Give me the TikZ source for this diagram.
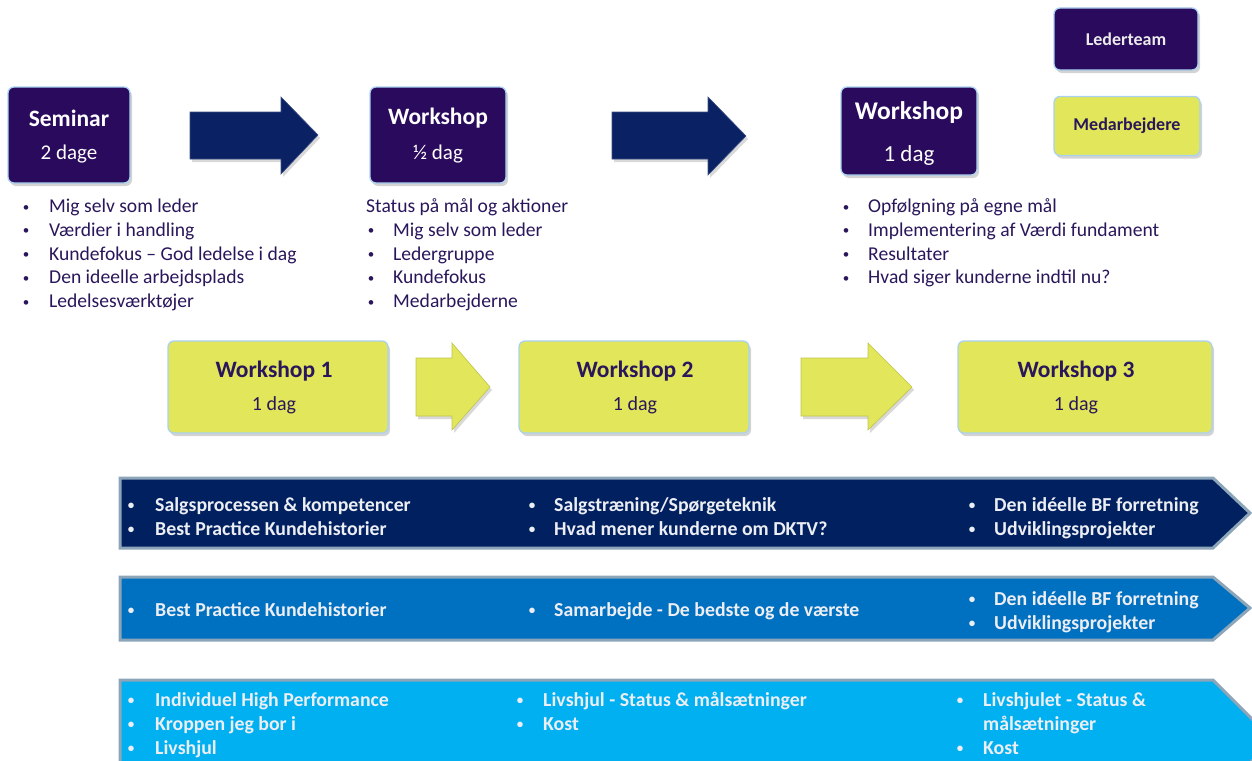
\documentclass[tikz,border=0pt]{standalone}
\usepackage{fontspec}
\setmainfont{Carlito}
\usetikzlibrary{shadows}
\definecolor{dpurple}{RGB}{42,10,92}
\definecolor{navyarrow}{RGB}{10,34,100}
\definecolor{edgeblue}{RGB}{170,210,240}
\definecolor{ybox}{RGB}{225,230,90}
\definecolor{band1}{RGB}{0,32,96}
\definecolor{band2}{RGB}{0,112,192}
\definecolor{band3}{RGB}{0,176,240}
\definecolor{bandedge}{RGB}{140,165,185}
\definecolor{listtxt}{RGB}{42,22,90}
\definecolor{bandtxt}{RGB}{236,238,244}
\newcommand{\mybul}{\raisebox{1.5pt}{\fontsize{13}{13}\selectfont •}}
\begin{document}
\begin{tikzpicture}[x=1pt,y=-1pt,
  boxbase/.style={rectangle, rounded corners=6pt, draw=edgeblue, line width=1.3pt,
     drop shadow={opacity=0.35, shadow xshift=2pt, shadow yshift=-3pt}},
  pbox/.style={boxbase, fill=dpurple},
  ybx/.style={boxbase, fill=ybox},
  ptitle/.style={text=white, font=\fontsize{23.5}{26}\selectfont\bfseries},
  psub/.style={text=white, font=\fontsize{21}{24}\selectfont},
  ytitle/.style={text=listtxt, font=\fontsize{23.5}{26}\selectfont\bfseries},
  ysub/.style={text=listtxt, font=\fontsize{20}{24}\selectfont},
  ltxt/.style={text=listtxt, font=\fontsize{19.6}{22}\selectfont, anchor=base west, inner sep=0pt},
  lbul/.style={text=listtxt, font=\fontsize{19.6}{22}\selectfont, anchor=base, inner sep=0pt},
  btxt/.style={text=bandtxt, font=\fontsize{19.8}{22}\selectfont\bfseries, anchor=base west, inner sep=0pt},
  bbul/.style={text=bandtxt, font=\fontsize{19.8}{22}\selectfont\bfseries, anchor=base, inner sep=0pt},
  navyshape/.style={fill=navyarrow, draw=navyarrow!80!white, line width=0.6pt,
     drop shadow={opacity=0.3, shadow xshift=2pt, shadow yshift=-3pt}},
  yshape/.style={fill=ybox, draw=ybox!85!black, line width=0.6pt,
     drop shadow={opacity=0.3, shadow xshift=2pt, shadow yshift=-3pt}},
  bandshape/.style={draw=bandedge, line width=3pt, line join=miter}
]
\useasboundingbox (0,0) rectangle (1252,760);
\clip (0,0) rectangle (1252,760);

% Legend
\node[pbox, minimum width=144pt, minimum height=62pt] (lt) at (1126,39) {};
\node[text=white!92!black, font=\fontsize{18}{20}\selectfont\bfseries] (ltt) at (lt.center) {Lederteam};
\node[ybx, minimum width=146pt, minimum height=59pt] (md) at (1127,126) {};
\node[text=listtxt, font=\fontsize{18}{20}\selectfont\bfseries] (mdt) at (md.center) {Medarbejdere};

% Top purple boxes
\node[pbox, minimum width=122pt, minimum height=96pt] (sem) at (69,135) {};
\node[ptitle] (semt) at (69,118) {Seminar};
\node[psub] (sems) at (69,154) {2 dage};

\node[pbox, minimum width=136pt, minimum height=96pt] (ws1) at (438,135) {};
\node[ptitle] (ws1t) at (438,118) {Workshop};
\node[psub] (ws1s) at (438,154) {½ dag};

\node[pbox, minimum width=136pt, minimum height=88pt] (ws2) at (909,131) {};
\node[ptitle, font=\fontsize{25.5}{28}\selectfont\bfseries] (ws2t) at (909,113) {Workshop};
\node[psub, font=\fontsize{23}{26}\selectfont] (ws2s) at (909,155) {1 dag};

% Navy arrows
\path[navyshape] (190,112) -- (281,112) -- (281,97) -- (318,135) -- (281,174) -- (281,159) -- (190,159) -- cycle;
\path[navyshape] (612,112) -- (708,112) -- (708,97) -- (746,136) -- (708,175) -- (708,159) -- (612,159) -- cycle;

% Lists under top boxes
\foreach \t [count=\i] in {Mig selv som leder, Værdier i handling, Kundefokus – God ledelse i dag, Den ideelle arbejdsplads, Ledelsesværktøjer}{
  \pgfmathsetmacro{\yy}{212.5+23.8*(\i-1)}
  \node[lbul] (ab\i) at (26,\yy) {\mybul};
  \node[ltxt] (at\i) at (49,\yy) {\t};
}
\node[ltxt] (bt0) at (366,212.5) {Status på mål og aktioner};
\foreach \t [count=\i] in {Mig selv som leder, Ledergruppe, Kundefokus, Medarbejderne}{
  \pgfmathsetmacro{\yy}{212.5+23.8*\i}
  \node[lbul] (bb\i) at (371,\yy) {\mybul};
  \node[ltxt] (bt\i) at (393,\yy) {\t};
}
\foreach \t [count=\i] in {Opfølgning på egne mål, Implementering af Værdi fundament, Resultater, Hvad siger kunderne indtil nu?}{
  \pgfmathsetmacro{\yy}{212.5+23.8*(\i-1)}
  \node[lbul] (cb\i) at (846,\yy) {\mybul};
  \node[ltxt] (ct\i) at (868,\yy) {\t};
}

% Yellow workshop boxes
\node[ybx, minimum width=220pt, minimum height=92pt] (y1) at (278,387) {};
\node[ytitle] (y1t) at (274,371) {Workshop 1};
\node[ysub] (y1s) at (274,405) {1 dag};
\node[ybx, minimum width=230pt, minimum height=92pt] (y2) at (634,387) {};
\node[ytitle] (y2t) at (635,371) {Workshop 2};
\node[ysub] (y2s) at (635,405) {1 dag};
\node[ybx, minimum width=254pt, minimum height=92pt] (y3) at (1085,387) {};
\node[ytitle] (y3t) at (1076,371) {Workshop 3};
\node[ysub] (y3s) at (1076,405) {1 dag};

% Yellow arrows
\path[yshape] (416,358) -- (452,358) -- (452,343) -- (490,387) -- (452,430) -- (452,416) -- (416,416) -- cycle;
\path[yshape] (801,358) -- (868,358) -- (868,343) -- (912,387) -- (868,430) -- (868,416) -- (801,416) -- cycle;

% Bands
\path[bandshape, fill=band1] (120,478) -- (1213,478) -- (1250,513) -- (1213,548) -- (120,548) -- cycle;
\path[bandshape, fill=band2] (120,577) -- (1213,577) -- (1250,608) -- (1213,640) -- (120,640) -- cycle;
\path[bandshape, fill=band3] (120,680) -- (1213,680) -- (1273,740) -- (1213,800) -- (120,800) -- cycle;

% Band 1 texts
\node[bbul] (p1b1) at (131,511) {\mybul}; \node[btxt] (p1t1) at (155,511) {Salgsprocessen \& kompetencer};
\node[bbul] (p1b2) at (131,535) {\mybul}; \node[btxt] (p1t2) at (155,535) {Best Practice Kundehistorier};
\node[bbul] (p1b3) at (532,511) {\mybul}; \node[btxt] (p1t3) at (554,511) {Salgstræning/Spørgeteknik};
\node[bbul] (p1b4) at (532,535) {\mybul}; \node[btxt] (p1t4) at (554,535) {Hvad mener kunderne om DKTV?};
\node[bbul] (p1b5) at (972,511) {\mybul}; \node[btxt] (p1t5) at (994,511) {Den idéelle BF forretning};
\node[bbul] (p1b6) at (972,535) {\mybul}; \node[btxt] (p1t6) at (994,535) {Udviklingsprojekter};

% Band 2 texts
\node[bbul] (p2b1) at (131,616) {\mybul}; \node[btxt] (p2t1) at (155,616) {Best Practice Kundehistorier};
\node[bbul] (p2b2) at (532,616) {\mybul}; \node[btxt] (p2t2) at (554,616) {Samarbejde - De bedste og de værste};
\node[bbul] (p2b3) at (972,605) {\mybul}; \node[btxt] (p2t3) at (994,605) {Den idéelle BF forretning};
\node[bbul] (p2b4) at (972,629) {\mybul}; \node[btxt] (p2t4) at (994,629) {Udviklingsprojekter};

% Band 3 texts
\node[bbul] (p3b1) at (131,706) {\mybul}; \node[btxt] (p3t1) at (155,706) {Individuel High Performance};
\node[bbul] (p3b2) at (131,730) {\mybul}; \node[btxt] (p3t2) at (155,730) {Kroppen jeg bor i};
\node[bbul] (p3b3) at (131,754) {\mybul}; \node[btxt] (p3t3) at (155,754) {Livshjul};
\node[bbul] (p3b4) at (520,706) {\mybul}; \node[btxt] (p3t4) at (543,706) {Livshjul - Status \& målsætninger};
\node[bbul] (p3b5) at (520,730) {\mybul}; \node[btxt] (p3t5) at (543,730) {Kost};
\node[bbul] (p3b6) at (960,706) {\mybul}; \node[btxt] (p3t6) at (983,706) {Livshjulet - Status \&};
\node[btxt] (p3t7) at (983,730) {målsætninger};
\node[bbul] (p3b8) at (960,754) {\mybul}; \node[btxt] (p3t8) at (983,754) {Kost};
\end{tikzpicture}
\end{document}
